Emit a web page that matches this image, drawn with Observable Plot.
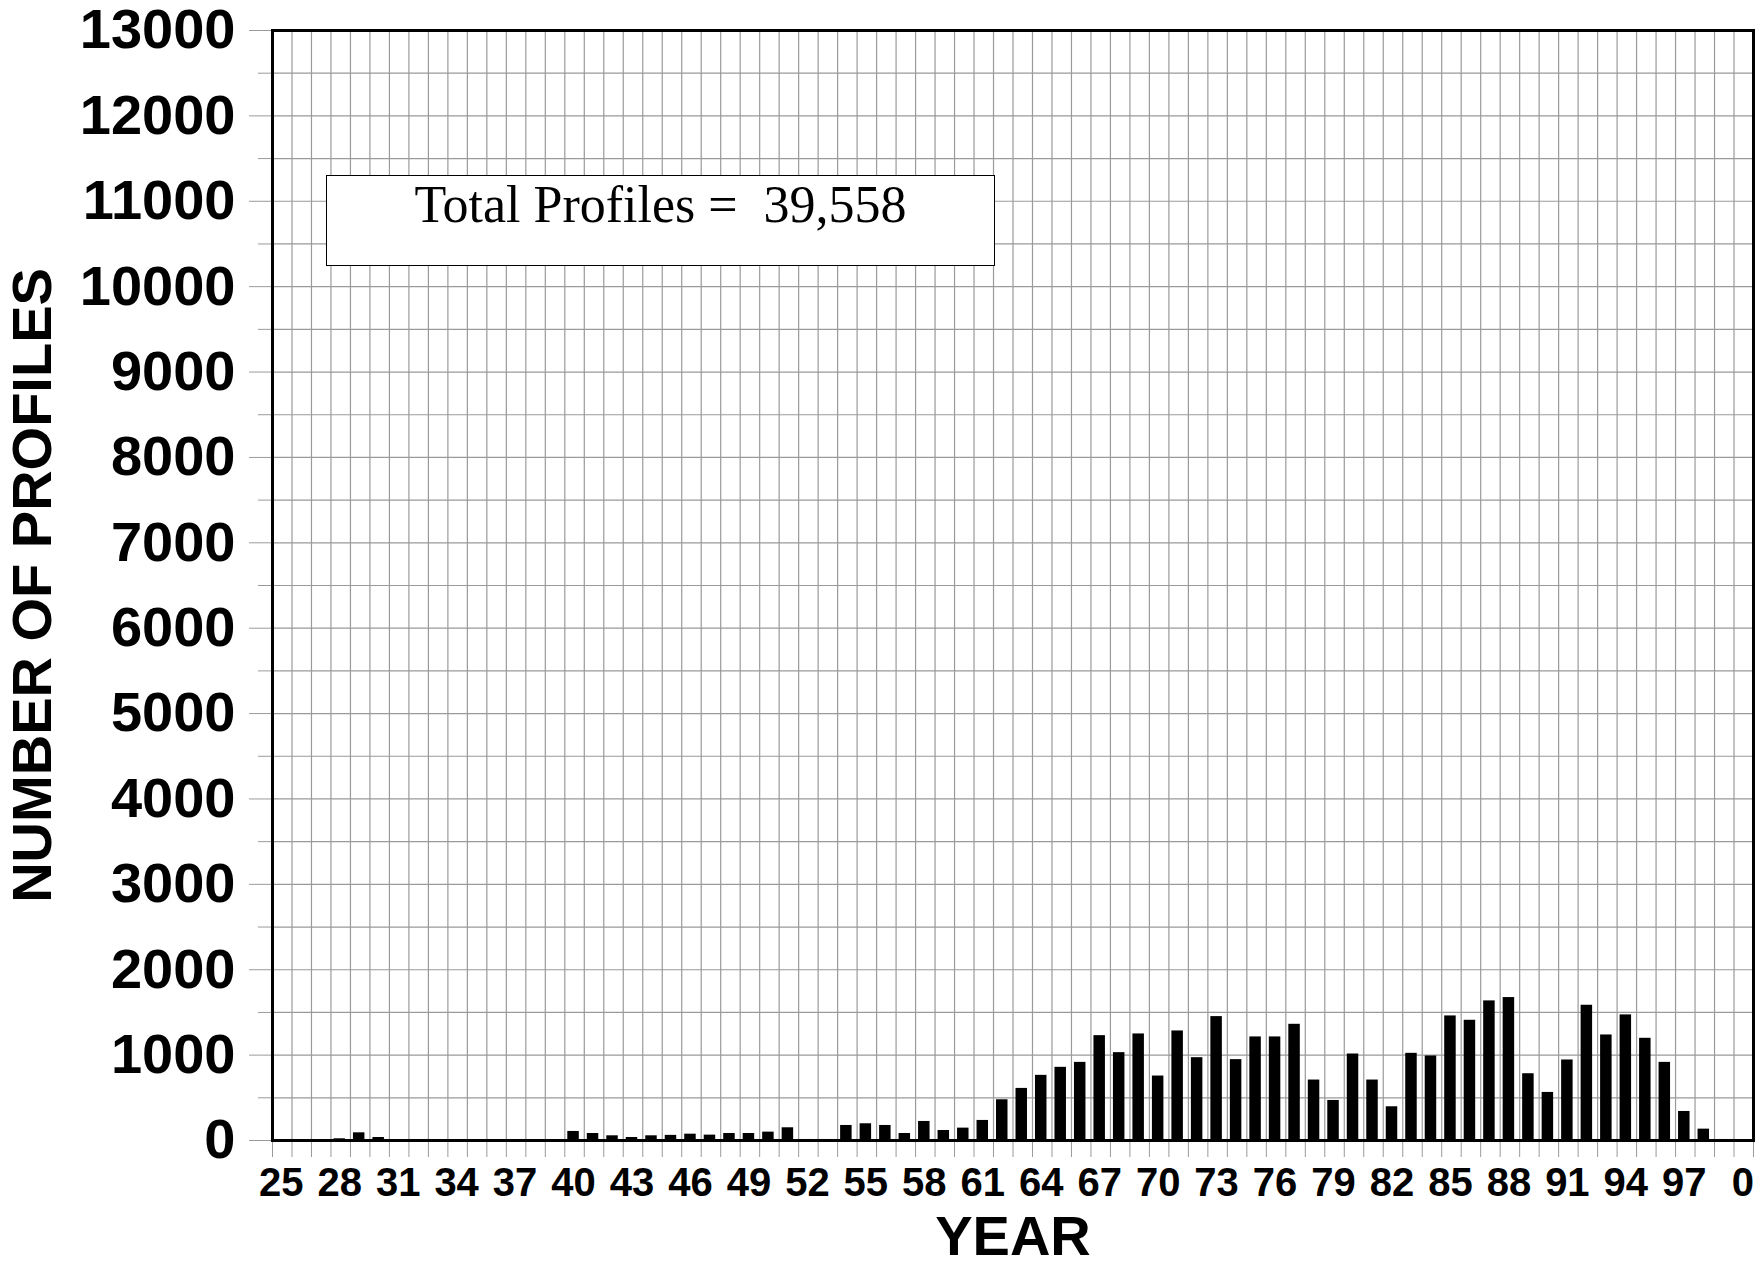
<!DOCTYPE html>
<html>
<head>
<meta charset="utf-8">
<script src="https://cdn.jsdelivr.net/npm/d3@7"></script>
<script src="https://cdn.jsdelivr.net/npm/@observablehq/plot@0.6"></script>
<style>
  html, body { margin: 0; padding: 0; background: #fff; }
  #wrap { position: relative; width: 1764px; height: 1266px; }
  #note {
    position: absolute; left: 326px; top: 175px; width: 667px; height: 89px;
    border: 1.5px solid #000; background: #fff; box-sizing: content-box;
    font-family: "Liberation Serif", "Times New Roman", serif; font-size: 52px;
    line-height: 1; text-align: center; color: #000;
  }
  #note span { display: inline-block; margin-top: 3px; white-space: pre; }
</style>
</head>
<body>
<div id="wrap"><div id="note"><span id="noteText"></span></div></div>
<script>
// ---- data ----
const years = d3.range(1925, 2001);
const counts = [
  0, 0, 0, 20, 90, 35,
  0, 0, 0, 0, 0, 0, 0, 0, 0,
  106, 82, 55, 35, 55, 60, 74, 63, 82, 82,
  98, 149, 12, 12, 176, 196, 176, 82, 223, 117,
  145, 235, 477, 610, 763, 857, 915, 1228, 1029, 1248,
  755, 1283, 970, 1451, 947, 1213, 1213, 1361, 708, 469,
  1013, 708, 395, 1021, 990, 1459, 1408, 1635, 1674, 782,
  563, 943, 1584, 1236, 1471, 1197, 915, 340, 133, 12,
  0
];
const xTickYears = [1925, 1928, 1931, 1934, 1937, 1940, 1943, 1946, 1949, 1952, 1955, 1958, 1961, 1964, 1967, 1970, 1973, 1976, 1979, 1982, 1985, 1988, 1991, 1994, 1997, 2000];
const xTickLabels = ["25", "28", "31", "34", "37", "40", "43", "46", "49", "52", "55", "58", "61", "64", "67", "70", "73", "76", "79", "82", "85", "88", "91", "94", "97", "0"];
const yMajorTicks = [0, 1000, 2000, 3000, 4000, 5000, 6000, 7000, 8000, 9000, 10000, 11000, 12000, 13000];
const yMinorTicks = [500, 1500, 2500, 3500, 4500, 5500, 6500, 7500, 8500, 9500, 10500, 11500, 12500];
const yTitle = "NUMBER OF PROFILES";
const xTitle = "YEAR";
const noteText = "Total Profiles =  39,558";

const data = years.map((year, i) => ({year, count: counts[i]}));
const yearBounds = years.map(y => y - 0.5).concat([years[years.length - 1] + 0.5]);
const gridY = yMajorTicks.concat(yMinorTicks);
const labelOf = new Map(xTickYears.map((y, i) => [y, xTickLabels[i]]));

const font = "'Liberation Sans', Arial, Helvetica, sans-serif";
const gridColor = "#9a9a9a";

const chart = Plot.plot({
  width: 1764,
  height: 1266,
  marginLeft: 272,
  marginRight: 11,
  marginTop: 30,
  marginBottom: 126,
  style: {fontFamily: font, background: "white", color: "black", overflow: "visible"},
  x: {type: "linear", domain: [yearBounds[0], yearBounds[yearBounds.length - 1]]},
  y: {domain: [0, 13000]},
  marks: [
    Plot.gridX({ticks: yearBounds, stroke: gridColor, strokeOpacity: 1, strokeWidth: 1.2}),
    Plot.gridY({ticks: gridY, stroke: gridColor, strokeOpacity: 1, strokeWidth: 1.2}),
    Plot.rectY(data, {x1: d => d.year - 0.5, x2: d => d.year + 0.5, y: "count", fill: "black", insetLeft: 3, insetRight: 5}),
    Plot.axisY({ticks: yMajorTicks, tickSize: 23, tickPadding: 14, stroke: gridColor, fill: "black",
      fontSize: 56, fontWeight: "bold", tickFormat: d => String(d), label: null}),
    Plot.axisY({ticks: yMinorTicks, tickSize: 14, text: null, stroke: gridColor, label: null}),
    Plot.axisX({ticks: yearBounds, tickSize: 17, text: null, stroke: gridColor, label: null}),
    Plot.axisX({ticks: xTickYears, tickSize: 0, tickPadding: 27, fill: "black", dx: -1,
      fontSize: 40, fontWeight: "bold", tickFormat: d => labelOf.get(d), label: null}),
    Plot.frame({stroke: "black", strokeWidth: 3}),
    Plot.text([yTitle], {frameAnchor: "left", rotate: -90, dx: -239, text: d => d,
      textAnchor: "middle", lineAnchor: "middle",
      fontSize: 56, fontWeight: "bold", fill: "black"}),
    Plot.text([xTitle], {frameAnchor: "bottom", dy: 97, text: d => d,
      textAnchor: "middle", lineAnchor: "middle",
      fontSize: 56, fontWeight: "bold", fill: "black"})
  ]
});
document.getElementById("wrap").prepend(chart);
document.getElementById("noteText").textContent = noteText;
</script>
</body>
</html>
